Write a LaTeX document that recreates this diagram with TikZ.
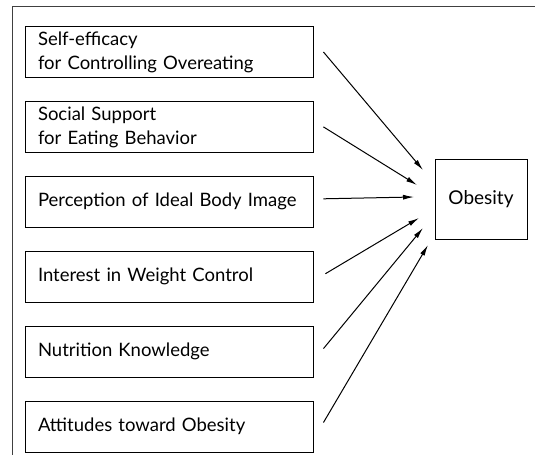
\documentclass[tikz,border=0pt]{standalone}
\usepackage{fontspec}
\setmainfont{Lato}
\usetikzlibrary{positioning, arrows.meta}
\newcommand{\factorfont}{\fontsize{18.5}{24}\selectfont\spaceskip=7.6pt plus 0.5pt minus 1pt\relax}
\tikzstyle{factor} = [rectangle, draw, line width=0.9pt, text width=262pt, inner xsep=13pt, minimum height=51pt, align=left, font=\factorfont]
\tikzstyle{outcome} = [rectangle, draw, line width=0.9pt, minimum width=92pt, minimum height=80pt, font=\fontsize{19}{22}\selectfont]
\tikzstyle{frame} = [draw, black!75, line width=0.9pt]
\tikzstyle{line} = [draw, line width=1pt, -{Latex[length=11pt, width=5pt]}]

\begin{document}
\begin{tikzpicture}[x=1pt, y=-1pt, node distance=23pt]
    \useasboundingbox (0,0) rectangle (535,455);
    % page frame (top and left edge only)
    \coordinate (ftr) at (535,6);
    \coordinate (ftl) at (12,6);
    \coordinate (fbl) at (12,455);
    \path[frame] (ftr) -- (ftl) -- (fbl);

    \node[factor] (selfeff) at (169,52) {Self-efficacy\\for Controlling Overeating};
    \node[factor, below=of selfeff] (support) {Social Support\\for Eating Behavior};
    \node[factor, below=of support] (image) {Perception of Ideal Body Image};
    \node[factor, below=of image] (interest) {Interest in Weight Control};
    \node[factor, below=of interest] (knowledge) {Nutrition Knowledge};
    \node[factor, below=of knowledge] (attitude) {Attitudes toward Obesity};

    \node[outcome] (obesity) at (481,199) {Obesity};

    % arrow tips stop short of the box
    \coordinate (t1) at (423,170);
    \coordinate (t2) at (417,185);
    \coordinate (t3) at (414,197);
    \coordinate (t4) at (419,218);
    \coordinate (t5) at (423,228);
    \coordinate (t6) at (428,245);

    \path[line] ([xshift=10pt]selfeff.east) -- (t1);
    \path[line] ([xshift=10pt]support.east) -- (t2);
    \path[line] ([xshift=10pt, yshift=3pt]image.east) -- (t3);
    \path[line] ([xshift=12pt, yshift=3pt]interest.east) -- (t4);
    \path[line] ([xshift=10pt, yshift=3pt]knowledge.east) -- (t5);
    \path[line] ([xshift=10pt, yshift=4pt]attitude.east) -- (t6);
\end{tikzpicture}
\end{document}
